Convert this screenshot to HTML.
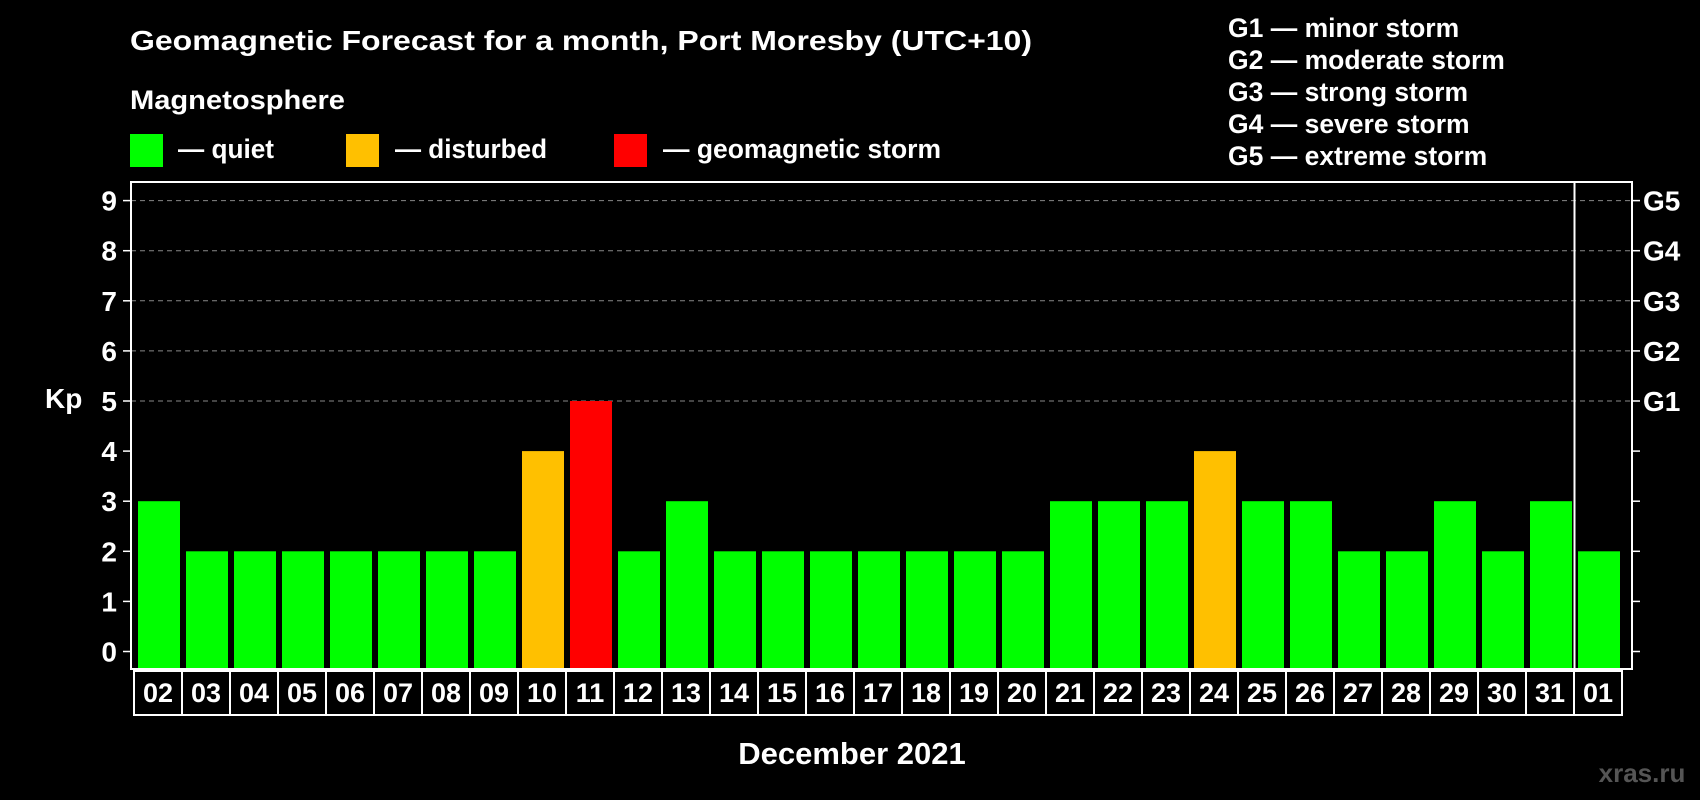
<!DOCTYPE html>
<html><head><meta charset="utf-8"><style>
html,body{margin:0;padding:0;background:#000;}
svg{display:block;font-family:"Liberation Sans",sans-serif;font-weight:bold;}
</style></head><body>
<svg id="chart" width="1700" height="800" viewBox="0 0 1700 800">
<rect width="1700" height="800" fill="#000"/>
<text x="130" y="50" fill="#fff" font-size="28" textLength="902" lengthAdjust="spacingAndGlyphs">Geomagnetic Forecast for a month, Port Moresby (UTC+10)</text>
<text x="130" y="109" fill="#fff" font-size="27" textLength="215" lengthAdjust="spacingAndGlyphs">Magnetosphere</text>
<g><rect x="130" y="134" width="33" height="33" fill="#00ff00"/><text x="178" y="158" fill="#fff" font-size="27" textLength="96" lengthAdjust="spacingAndGlyphs">— quiet</text></g>
<g><rect x="346" y="134" width="33" height="33" fill="#ffc000"/><text x="395" y="158" fill="#fff" font-size="27" textLength="152" lengthAdjust="spacingAndGlyphs">— disturbed</text></g>
<g><rect x="614" y="134" width="33" height="33" fill="#ff0000"/><text x="663" y="158" fill="#fff" font-size="27" textLength="278" lengthAdjust="spacingAndGlyphs">— geomagnetic storm</text></g>
<g fill="#fff" font-size="26.5">
<text x="1228" y="37">G1 — minor storm</text>
<text x="1228" y="69">G2 — moderate storm</text>
<text x="1228" y="101">G3 — strong storm</text>
<text x="1228" y="133">G4 — severe storm</text>
<text x="1228" y="165">G5 — extreme storm</text>
</g>
<text x="45" y="408" fill="#fff" font-size="28">Kp</text>
<text x="852" y="764" fill="#fff" font-size="31" text-anchor="middle">December 2021</text>
<text x="1642" y="782" fill="#555" font-size="26" text-anchor="middle">xras.ru</text>
<g id="grid"></g><g id="bars"></g><g id="axes"></g>
</svg>
<script>
const days = ["02","03","04","05","06","07","08","09","10","11","12","13","14","15","16","17","18","19","20","21","22","23","24","25","26","27","28","29","30","31","01"];
const kpValues = [3,2,2,2,2,2,2,2,4,5,2,3,2,2,2,2,2,2,2,3,3,3,4,3,3,2,2,3,2,3,2];
const yTicks = [0,1,2,3,4,5,6,7,8,9];
const gLabels = ["G1","G2","G3","G4","G5"];
const NS="http://www.w3.org/2000/svg";
const L=131,R=1632,T=182,B=669,X0=134,PITCH=48;
function y(v){return 651.5-v*50.1;}
function x(i){return X0+i*PITCH;}
function mk(tag,attrs,parent){const e=document.createElementNS(NS,tag);for(const k in attrs)e.setAttribute(k,attrs[k]);parent.appendChild(e);return e;}
const grid=document.getElementById('grid'),bars=document.getElementById('bars'),axes=document.getElementById('axes');
yTicks.forEach(v=>{
  if(v>=5){const g=mk('line',{x1:L,x2:R,y1:y(v),y2:y(v),stroke:'#888','stroke-dasharray':'5,4','stroke-width':1},grid);
  
  }
  const t1=mk('line',{x1:L-8,x2:L,y1:y(v),y2:y(v),stroke:'#fff','stroke-width':1.5},axes);
  
  
  const t2=mk('line',{x1:R,x2:R+8,y1:y(v),y2:y(v),stroke:'#fff','stroke-width':1.5},axes);
  
  
  const lb=mk('text',{x:117,y:y(v)+10,fill:'#fff','font-size':28,'text-anchor':'end'},axes);lb.textContent=v;
  
  
});
gLabels.forEach((g,i)=>{
  const t=mk('text',{x:1643,y:y(5+i)+10,fill:'#fff','font-size':28},axes);t.textContent=g;
  
  
});
kpValues.forEach((v,i)=>{
  const c=v>=5?'#ff0000':(v>=4?'#ffc000':'#00ff00');
  const b=mk('rect',{x:x(i)+4,y:y(v),width:42,height:B-y(v),fill:c},bars);
  
  
  const bx=mk('rect',{x:x(i),y:671,width:PITCH,height:44,fill:'none',stroke:'#fff','stroke-width':2},axes);
  
  
  const t=mk('text',{x:x(i)+PITCH/2,y:702,fill:'#fff','font-size':27,'text-anchor':'middle'},axes);t.textContent=days[i];
  
  
});
const fr=mk('rect',{x:L,y:T,width:R-L,height:B-T,fill:'none',stroke:'#fff','stroke-width':2},axes);


const sx=(x(days.length-1)+x(days.length-2)+PITCH)/2+0.5;
const sep=mk('line',{x1:sx,x2:sx,y1:T,y2:B,stroke:'#fff','stroke-width':2},axes);


</script>
</body></html>
